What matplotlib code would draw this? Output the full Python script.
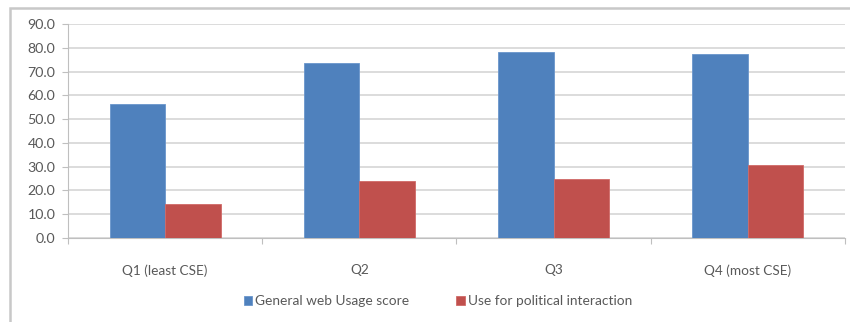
import numpy as np
import matplotlib
matplotlib.use('Agg')
import matplotlib.pyplot as plt
from matplotlib.patches import Rectangle

# quartiles of computer self-efficacy (CSE)
categories = ['Q1 (least CSE)', 'Q2', 'Q3', 'Q4 (most CSE)']
general_web = [56.3, 73.6, 78.1, 77.5]
political = [14.4, 23.9, 24.9, 30.5]
series_names = ['General web Usage score', 'Use for political interaction']
yticks = np.arange(0, 91, 10)

blue = '#4f81bd'
red = '#c0504d'
grid_c = '#d9d9d9'
text_c = '#595959'

plt.rcParams['font.family'] = ['Lato', 'DejaVu Sans']

fig = plt.figure(figsize=(8.5, 3.22), dpi=100)
ax = fig.add_axes([68/850, 1-238/322, 777/850, 214/322])

x = np.arange(len(categories))
w = 2/3.5/2  # excel gap width 150%
ax.bar(x - w/2, general_web, w, color=blue, edgecolor='#6a96cc', linewidth=0.6,
       label=series_names[0], zorder=3)
ax.bar(x + w/2, political, w, color=red, edgecolor='#d06a67', linewidth=0.6,
       label=series_names[1], zorder=3)

ax.set_xlim(-0.5, len(categories) - 0.5)
ax.set_ylim(0, 90)
ax.set_yticks(yticks)
ax.set_yticklabels(['%.1f' % v for v in yticks])
ax.yaxis.grid(True, color=grid_c, linewidth=1.3, zorder=0)

# category labels centred, tick marks at the boundaries
ax.set_xticks(x)
ax.set_xticklabels(categories)
ax.set_xticks(np.arange(-0.5, len(categories)), minor=True)
ax.tick_params(axis='x', which='major', length=0, pad=19, labelsize=9.8, colors=text_c)
ax.tick_params(axis='x', which='minor', length=4, color='#bfbfbf', width=0.8)
ax.tick_params(axis='y', length=4, color='#bfbfbf', width=0.8, labelsize=10.2,
               colors=text_c, pad=5)
ax.tick_params(axis='y', colors='#bfbfbf', labelcolor=text_c)

for side in ['top', 'right']:
    ax.spines[side].set_visible(False)
for side in ['left', 'bottom']:
    ax.spines[side].set_color('#bfbfbf')
    ax.spines[side].set_linewidth(0.8)

leg = fig.legend(loc='center', bbox_to_anchor=(438/850, 1-301/322), ncol=2,
                 frameon=False, fontsize=9.9, handlelength=0.6, handleheight=0.6,
                 handletextpad=0.25, columnspacing=3.4)
for t in leg.get_texts():
    t.set_color(text_c)

# outer chart frame
fig.patches.append(Rectangle((10/850, -0.05), 1.0, 1 - 8/322 + 0.05,
                             transform=fig.transFigure, fill=False,
                             edgecolor='#c8c8c8', linewidth=1.8))

fig.savefig('out.png', dpi=100)
